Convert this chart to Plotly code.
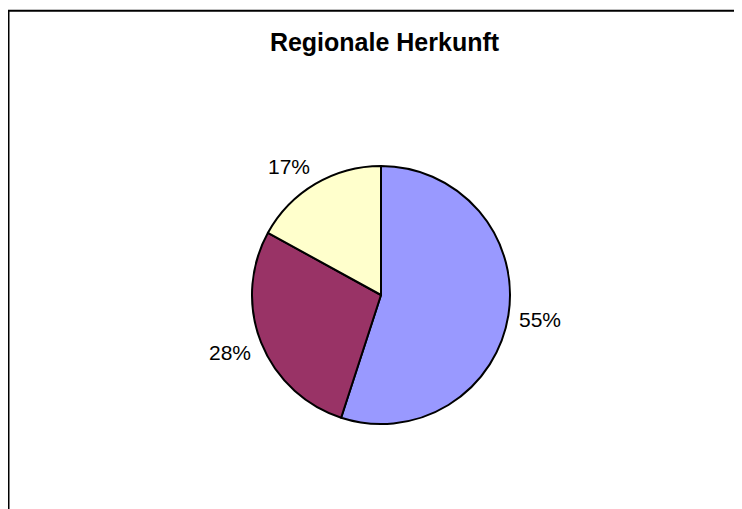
import math
import plotly.graph_objects as go

categories = ["Region A", "Region B", "Region C"]
shares = [55, 28, 17]
colors = ["#9999FF", "#993366", "#FFFFCC"]

W, H = 742, 509
OFF = 8  # default body margin of the page
cx, cy, r = 381 - OFF, 295 - OFF, 129
FONT = "Liberation Sans, Arial"
LBL = 21

fig = go.Figure(go.Pie(
    labels=categories,
    values=shares,
    sort=False,
    direction="clockwise",
    rotation=0,
    marker=dict(colors=colors, line=dict(color="black", width=2)),
    textinfo="none",
    showlegend=False,
    hoverinfo="label+percent",
    domain=dict(x=[(cx - r) / W, (cx + r) / W],
                y=[1 - (cy + r) / H, 1 - (cy - r) / H]),
))

# percentage labels placed outside each slice, following slice mid-angles
total = sum(shares)
annotations = []
acc = 0.0
for v in shares:
    mid = (acc + v / 2) / total * 2 * math.pi
    acc += v
    dx, dy = math.sin(mid), -math.cos(mid)  # screen coords (y down)
    txt = f"{round(v / total * 100)}%"
    hw = 0.5 * LBL * (0.556 * (len(txt) - 1) + 0.889)
    hh = 7.5
    D = r + 11
    px = cx + D * dx + hw * max(-1, min(1, 2 * dx))
    py = cy + D * dy + hh * max(-1, min(1, 2 * dy))
    annotations.append(dict(
        x=px / W, y=1 - py / H, xref="paper", yref="paper",
        text=txt, showarrow=False, xanchor="center", yanchor="middle",
        font=dict(family=FONT, size=LBL, color="black"),
    ))

fig.update_layout(
    width=W, height=H,
    margin=dict(l=0, r=0, t=0, b=0),
    paper_bgcolor="white",
    plot_bgcolor="white",
    title=dict(text="<b>Regionale Herkunft</b>", x=(384.5 - OFF) / W, xanchor="center",
               y=1 - (42 - OFF) / H, yanchor="middle",
               font=dict(family=FONT, size=25, color="black")),
    annotations=annotations,
    shapes=[dict(type="rect", xref="paper", yref="paper",
                 x0=0.5 / W, x1=1.05, y0=-0.05, y1=1 - 2.75 / H,
                 line=dict(color="black", width=2), fillcolor="rgba(0,0,0,0)")],
)

fig.write_html("out.html")
